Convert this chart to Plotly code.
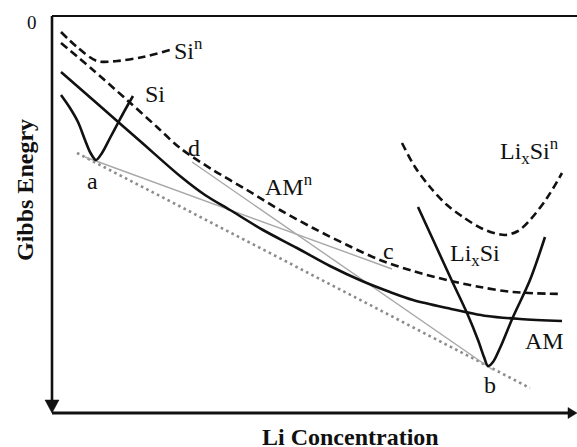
import plotly.graph_objects as go

# Li concentration (arbitrary units) and Gibbs energy (arbitrary units, 0 at top)
si_n_x = [1.8, 5.0, 9.0, 13.0, 18.2, 23.6]
si_n_g = [-3.2, -6.2, -9.0, -9.0, -8.2, -6.8]

am_n_x = [1.8, 8.2, 15.0, 21.0, 25.6, 32.2, 39.0, 45.6, 52.2, 59.0, 65.6, 72.2, 79.0, 85.6, 92.2, 102.0]
am_n_g = [-5.4, -10.8, -16.8, -22.2, -26.4, -30.8, -34.8, -38.8, -42.4, -45.8, -48.8, -51.0, -52.8, -54.2, -55.2, -55.6]

am_x = [1.8, 9.6, 17.6, 25.6, 30.6, 35.6, 42.2, 49.0, 55.6, 62.0, 67.6, 72.2, 79.0, 87.0, 93.6, 102.0]
am_g = [-11.2, -18.0, -25.0, -32.0, -35.8, -38.8, -42.8, -46.4, -50.0, -53.0, -55.2, -56.8, -58.4, -60.0, -60.6, -61.0]

si_x = [1.8, 3.6, 5.2, 6.6, 7.6, 8.8, 10.0, 11.6, 13.2, 14.6, 16.2]
si_g = [-15.8, -18.4, -21.2, -24.8, -27.2, -28.8, -27.4, -24.4, -21.4, -18.8, -16.0]

lixsi_x = [73.2, 76.6, 80.0, 83.0, 85.2, 86.4, 87.2, 88.2, 89.6, 92.2, 95.6, 98.6]
lixsi_g = [-38.2, -45.6, -53.0, -59.4, -64.8, -68.2, -70.0, -69.2, -66.4, -60.2, -52.8, -44.2]

lixsi_n_x = [70.0, 72.6, 75.6, 79.0, 82.2, 86.2, 90.6, 93.2, 95.6, 99.0, 102.0]
lixsi_n_g = [-25.4, -30.2, -34.2, -37.8, -40.2, -42.6, -43.8, -43.0, -40.8, -36.4, -31.4]

# common tangent a-b and the two construction tangents a-c, d-b
tangent_ab_x = [5.0, 95.6]
tangent_ab_g = [-27.4, -74.4]
tangent_ac_x = [6.6, 68.0]
tangent_ac_g = [-28.2, -50.6]
tangent_db_x = [28.0, 88.2]
tangent_db_g = [-29.2, -70.8]

# curve labels: (text, x, g, anchor)
labels = [
    ("Si<sup>n</sup>", 24.0, -6.6, "left"),
    ("Si", 18.2, -15.6, "left"),
    ("a", 8.0, -33.0, "center"),
    ("d", 28.4, -26.4, "center"),
    ("AM<sup>n</sup>", 42.2, -33.8, "left"),
    ("c", 67.2, -47.0, "center"),
    ("Li<sub>x</sub>Si<sup>n</sup>", 89.2, -27.0, "left"),
    ("Li<sub>x</sub>Si", 79.2, -47.8, "left"),
    ("AM", 94.2, -65.0, "left"),
    ("b", 87.6, -73.8, "center"),
]

X_MAX = 105.0
G_MIN = -79.4

SERIF = "Liberation Serif"
BLACK = "#111111"
GRAY = "#a8a8a8"
DOT_GRAY = "#8c8c8c"

fig = go.Figure()


def curve(x, y, color=BLACK, width=2.6, dash=None, shape="spline"):
    fig.add_trace(go.Scatter(
        x=x, y=y, mode="lines",
        line=dict(color=color, width=width, dash=dash, shape=shape, smoothing=0.9),
        hoverinfo="skip", showlegend=False,
    ))


curve(tangent_ab_x, tangent_ab_g, color=DOT_GRAY, width=2.6, dash="2.6px,3.4px", shape="linear")
curve(tangent_ac_x, tangent_ac_g, color=GRAY, width=1.4, shape="linear")
curve(tangent_db_x, tangent_db_g, color=GRAY, width=1.4, shape="linear")

curve(si_n_x, si_n_g, dash="8px,4.5px")
curve(am_n_x, am_n_g, dash="8px,4.5px")
curve(lixsi_n_x, lixsi_n_g, dash="8px,4.5px")
curve(am_x, am_g)
curve(si_x, si_g)
curve(lixsi_x, lixsi_g)

annotations = []
for text, x, y, anchor in labels:
    annotations.append(dict(
        x=x, y=y, text=text, showarrow=False, xanchor=anchor, yanchor="middle",
        font=dict(family=SERIF, size=24, color=BLACK),
    ))

annotations += [
    dict(x=-4.0, y=-1.2, text="0", showarrow=False, xanchor="center", yanchor="middle",
         font=dict(family=SERIF, size=19, color=BLACK)),
    dict(x=-5.4, y=-34.8, text="<b>Gibbs Enegry</b>", textangle=-90, showarrow=False,
         xanchor="center", yanchor="middle",
         font=dict(family=SERIF, size=24, color=BLACK)),
    dict(x=59.6, y=-84.2, text="<b>Li Concentration</b>", showarrow=False,
         xanchor="center", yanchor="middle",
         font=dict(family=SERIF, size=24, color=BLACK)),
]

shapes = [
    # frame: top border, energy axis (pointing down), concentration axis (pointing right)
    dict(type="line", x0=0, y0=0, x1=X_MAX, y1=0, line=dict(color=BLACK, width=1.8)),
    dict(type="line", x0=0, y0=0, x1=0, y1=G_MIN + 2.0, line=dict(color=BLACK, width=2.6)),
    dict(type="line", x0=0, y0=G_MIN, x1=X_MAX - 1.0, y1=G_MIN, line=dict(color=BLACK, width=2.8)),
    dict(type="path", path=f"M -1.4 {G_MIN + 2.6} L 1.4 {G_MIN + 2.6} L 0 {G_MIN} Z",
         fillcolor=BLACK, line=dict(color=BLACK, width=0.5)),
    dict(type="path", path=f"M {X_MAX - 1.8} {G_MIN + 1.1} L {X_MAX - 1.8} {G_MIN - 1.1} L {X_MAX} {G_MIN} Z",
         fillcolor=BLACK, line=dict(color=BLACK, width=0.5)),
]

fig.update_layout(
    width=577, height=447,
    margin=dict(l=0, r=0, t=0, b=0),
    paper_bgcolor="white", plot_bgcolor="white",
    font=dict(family=SERIF),
    xaxis=dict(range=[-10.4, X_MAX], visible=False, fixedrange=True),
    yaxis=dict(range=[-86.2, 3.2], visible=False, fixedrange=True),
    annotations=annotations,
    shapes=shapes,
)

fig.write_html("out.html", config={"displayModeBar": False})
